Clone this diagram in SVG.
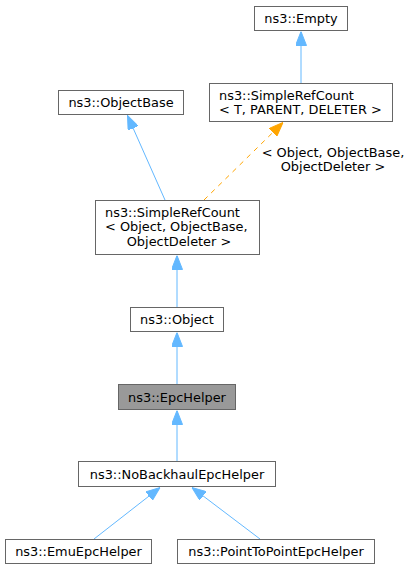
<svg xmlns="http://www.w3.org/2000/svg" width="411" height="571" viewBox="0 0 411 571">
<style>
.box{fill:#ffffff;stroke:#666666;stroke-width:1}
.sel{fill:#999999;stroke:#666666;stroke-width:1}
text{font-family:"DejaVu Sans","Liberation Sans",sans-serif;font-size:12.9px;fill:#000000}
.c{text-anchor:middle}
.edge{stroke:#63b8ff;stroke-width:1;fill:none}
.tmpl{stroke:#ffa500;stroke-width:1;fill:none;stroke-dasharray:5,5}
</style>
<defs>
<marker id="ab" markerUnits="userSpaceOnUse" markerWidth="14" markerHeight="11" viewBox="0 0 14 11" refX="14" refY="5.5" orient="auto">
<path d="M0,0 L14,5.5 L0,11 z" fill="#63b8ff" stroke="#63b8ff"/>
</marker>
<marker id="ao" markerUnits="userSpaceOnUse" markerWidth="14" markerHeight="11" viewBox="0 0 14 11" refX="14" refY="5.5" orient="auto">
<path d="M0,0 L14,5.5 L0,11 z" fill="#ffa500" stroke="#ffa500"/>
</marker>
</defs>
<g id="edges">
<line class="edge" x1="301" y1="83" x2="301" y2="31.5" marker-end="url(#ab)"/>
<line class="edge" x1="165" y1="200" x2="127.5" y2="115.5" marker-end="url(#ab)"/>
<line class="tmpl" x1="204" y1="200" x2="283" y2="122.5" marker-end="url(#ao)"/>
<text class="c" x="333" y="157">&lt; Object, ObjectBase,</text>
<text class="c" x="333" y="171">ObjectDeleter &gt;</text>
<line class="edge" x1="177" y1="307" x2="177" y2="255.5" marker-end="url(#ab)"/>
<line class="edge" x1="177" y1="384" x2="177" y2="332.5" marker-end="url(#ab)"/>
<line class="edge" x1="177" y1="461" x2="177" y2="410.5" marker-end="url(#ab)"/>
<line class="edge" x1="94" y1="539" x2="160" y2="487.5" marker-end="url(#ab)"/>
<line class="edge" x1="260" y1="539" x2="192" y2="487.5" marker-end="url(#ab)"/>
</g>
<g id="node_empty">
<rect class="box" x="254.5" y="6.5" width="93" height="24"/>
<text class="c" x="301" y="23">ns3::Empty</text>
</g>
<g id="node_simplerefcount_t">
<rect class="box" x="209.5" y="83.5" width="183" height="38"/>
<text x="219" y="99.5">ns3::SimpleRefCount</text>
<text x="219" y="113.5">&lt; T, PARENT, DELETER &gt;</text>
</g>
<g id="node_objectbase">
<rect class="box" x="58.5" y="90.5" width="125" height="24"/>
<text class="c" x="121" y="106.5">ns3::ObjectBase</text>
</g>
<g id="node_simplerefcount_object">
<rect class="box" x="95.5" y="200.5" width="164" height="54"/>
<text x="105" y="216.5">ns3::SimpleRefCount</text>
<text x="105" y="231">&lt; Object, ObjectBase,</text>
<text class="c" x="179" y="246">ObjectDeleter &gt;</text>
</g>
<g id="node_object">
<rect class="box" x="130.5" y="307.5" width="93" height="24"/>
<text class="c" x="177" y="323.5">ns3::Object</text>
</g>
<g id="node_epchelper">
<rect class="sel" x="118.5" y="384.5" width="117" height="25"/>
<text class="c" x="177" y="401.5">ns3::EpcHelper</text>
</g>
<g id="node_nobackhaul">
<rect class="box" x="78.5" y="461.5" width="197" height="25"/>
<text class="c" x="177" y="479">ns3::NoBackhaulEpcHelper</text>
</g>
<g id="node_emu">
<rect class="box" x="5.5" y="539.5" width="146" height="24"/>
<text class="c" x="78.5" y="555.5">ns3::EmuEpcHelper</text>
</g>
<g id="node_p2p">
<rect class="box" x="177.5" y="539.5" width="197" height="24"/>
<text class="c" x="276" y="555.5">ns3::PointToPointEpcHelper</text>
</g>
</svg>
